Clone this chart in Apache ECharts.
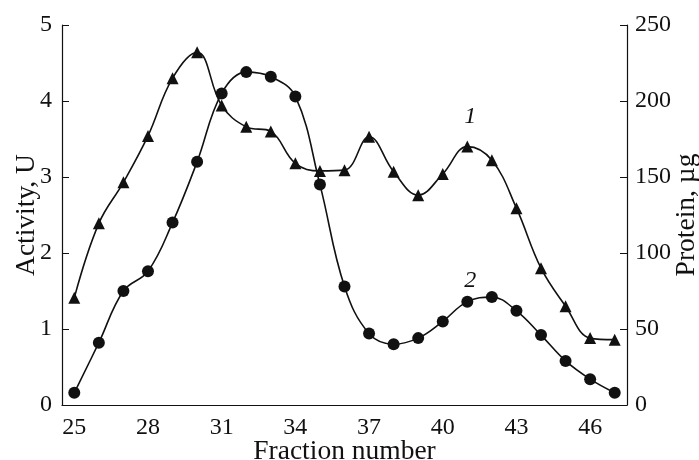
<!DOCTYPE html>
<html>
<head>
<meta charset="utf-8">
<script src="https://cdn.jsdelivr.net/npm/echarts@6/dist/echarts.min.js"></script>
<style>
  html, body { margin: 0; padding: 0; background: #fff; }
  #chart { width: 699px; height: 460px; }
</style>
</head>
<body>
<div id="chart"></div>
<script>
  // fraction numbers on the x axis
  const fractions = ['25', '26', '27', '28', '29', '30', '31', '32', '33', '34', '35', '36',
    '37', '38', '39', '40', '41', '42', '43', '44', '45', '46', '47']
  // curve 1 (triangles), activity, U
  const activity = [1.41, 2.39, 2.93, 3.54, 4.30, 4.64, 3.94, 3.66, 3.60, 3.18, 3.08, 3.09,
    3.53, 3.07, 2.76, 3.04, 3.40, 3.22, 2.59, 1.80, 1.30, 0.88, 0.86]
  // curve 2 (circles), protein, ug
  const protein = [8, 41, 75, 88, 120, 160, 205, 219, 216, 203, 145, 78,
    47, 40, 44, 55, 68, 71, 62, 46, 29, 17, 8]

  const font = 'Liberation Serif'
  const chart = echarts.init(document.getElementById('chart'))

  chart.setOption({
    animation: false,
    backgroundColor: '#fff',
    grid: {
      left: 62,
      right: 72,
      top: 25,
      bottom: 55,
      outerBoundsMode: 'none',
      containLabel: false
    },
    xAxis: {
      type: 'category',
      data: fractions,
      boundaryGap: true,
      name: 'Fraction number',
      nameLocation: 'middle',
      nameGap: 33,
      nameMoveOverlap: false,
      nameTextStyle: { fontFamily: font, fontSize: 27.5, color: '#111' },
      axisLine: { lineStyle: { color: '#111', width: 1.2 } },
      axisTick: { inside: true, interval: 0, length: 6, lineStyle: { color: '#111' } },
      axisLabel: { interval: 2, fontFamily: font, fontSize: 24, color: '#111', margin: 11 },
      splitLine: { show: false }
    },
    yAxis: [
      {
        type: 'value',
        min: 0,
        max: 5,
        interval: 1,
        name: 'Activity, U',
        nameLocation: 'middle',
        nameGap: 21,
        nameMoveOverlap: false,
        nameTextStyle: { fontFamily: font, fontSize: 27.5, color: '#111' },
        axisLine: { show: true, lineStyle: { color: '#111', width: 1.2 } },
        axisTick: { show: true, inside: true, length: 7, lineStyle: { color: '#111' } },
        axisLabel: { fontFamily: font, fontSize: 24, color: '#111', margin: 10 },
        splitLine: { show: false }
      },
      {
        type: 'value',
        min: 0,
        max: 250,
        interval: 50,
        position: 'right',
        name: 'Protein, µg',
        nameLocation: 'middle',
        nameGap: 46,
        nameRotate: 90,
        nameMoveOverlap: false,
        nameTextStyle: { fontFamily: font, fontSize: 27.5, color: '#111' },
        axisLine: { show: true, lineStyle: { color: '#111', width: 1.2 } },
        axisTick: { show: true, inside: true, length: 7, lineStyle: { color: '#111' } },
        axisLabel: { fontFamily: font, fontSize: 24, color: '#111', margin: 8 },
        splitLine: { show: false }
      }
    ],
    series: [
      {
        name: 'Activity',
        type: 'line',
        yAxisIndex: 0,
        data: activity,
        smooth: 0.4,
        symbol: 'triangle',
        symbolSize: 12,
        itemStyle: { color: '#111' },
        lineStyle: { color: '#111', width: 1.6 },
        markPoint: {
          symbol: 'circle',
          symbolSize: 0,
          label: { show: true, formatter: '1', offset: [3, 0], fontFamily: font, fontStyle: 'italic', fontSize: 24, color: '#111' },
          data: [{ coord: ['41', 3.79] }]
        }
      },
      {
        name: 'Protein',
        type: 'line',
        yAxisIndex: 1,
        data: protein,
        smooth: 0.4,
        symbol: 'circle',
        symbolSize: 12,
        itemStyle: { color: '#111' },
        lineStyle: { color: '#111', width: 1.6 },
        markPoint: {
          symbol: 'circle',
          symbolSize: 0,
          label: { show: true, formatter: '2', offset: [3, 0], fontFamily: font, fontStyle: 'italic', fontSize: 24, color: '#111' },
          data: [{ coord: ['41', 82] }]
        }
      }
    ]
  })
</script>
</body>
</html>
